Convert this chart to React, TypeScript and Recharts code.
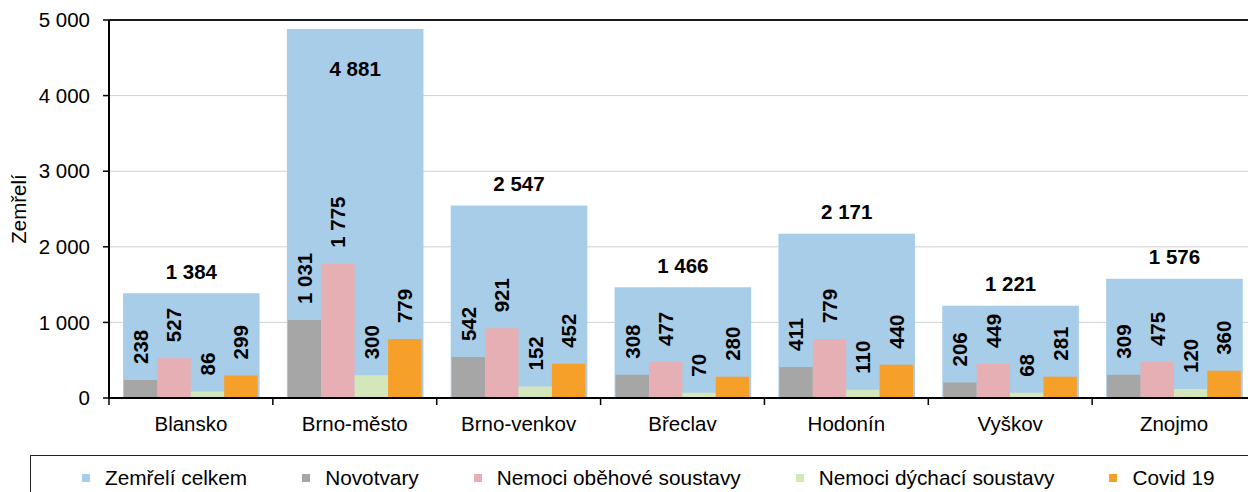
import React from "react";
import { BarChart, Bar, XAxis, YAxis, CartesianGrid, ReferenceLine } from "recharts";

const categories = ["Blansko", "Brno-město", "Brno-venkov", "Břeclav", "Hodonín", "Vyškov", "Znojmo"];
const totalDeaths = [1384, 4881, 2547, 1466, 2171, 1221, 1576];
const neoplasms = [238, 1031, 542, 308, 411, 206, 309];
const circulatory = [527, 1775, 921, 477, 779, 449, 475];
const respiratory = [86, 300, 152, 70, 110, 68, 120];
const covid = [299, 779, 452, 280, 440, 281, 360];
const yTicks = [0, 1000, 2000, 3000, 4000, 5000];

const SERIES = [
  { key: "total", name: "Zemřelí celkem", color: "#a7cde8" },
  { key: "neo", name: "Novotvary", color: "#a6a6a6" },
  { key: "circ", name: "Nemoci oběhové soustavy", color: "#e6afb3" },
  { key: "resp", name: "Nemoci dýchací soustavy", color: "#d4e7bb" },
  { key: "covid", name: "Covid 19", color: "#f6a02a" },
];

const data = categories.map((name, i) => ({
  name,
  total: totalDeaths[i],
  neo: neoplasms[i],
  circ: circulatory[i],
  resp: respiratory[i],
  covid: covid[i],
}));

const FONT = "'Liberation Sans', Arial, Helvetica, sans-serif";
const FS = 20.5;
const CHART_W = 1262;
const CHART_H = 492;
const MARGIN = { top: 20, right: 6, left: 0, bottom: 54 };
const Y_AXIS_W = 109;
const BAND = (CHART_W - MARGIN.right - MARGIN.left - Y_AXIS_W) / categories.length;
const PLOT_TOP = MARGIN.top;
const PLOT_BOTTOM = CHART_H - MARGIN.bottom - 40;

const fmt = (v: number) => String(v).replace(/\B(?=(\d{3})+(?!\d))/g, " ");

const box = (p: any) => {
  const vb = p.viewBox || {};
  return {
    x: Number(p.x ?? vb.x),
    y: Number(p.y ?? vb.y),
    width: Number(p.width ?? vb.width),
    value: Number(p.value),
  };
};

// total label sits above the bar, or inside when it would leave the plot
const TotalLabel = (p: any) => {
  const { x, y, width, value } = box(p);
  const above = y - 22;
  const cy = above < PLOT_TOP + 10 ? y + 40 : above;
  return (
    <text x={x + width / 2} y={cy} dy="0.36em" textAnchor="middle" fontSize={FS} fontWeight="bold" fill="#000">
      {fmt(value)}
    </text>
  );
};

const RotatedLabel = (p: any) => {
  const { x, y, width, value } = box(p);
  const cx = x + width / 2;
  const sy = y - 16;
  return (
    <text
      x={cx}
      y={sy}
      dy="0.36em"
      transform={`rotate(-90 ${cx} ${sy})`}
      textAnchor="start"
      fontSize={FS}
      fontWeight="bold"
      fill="#000"
    >
      {fmt(value)}
    </text>
  );
};

const CategoryTick = ({ x, y, payload }: any) => (
  <g>
    <line x1={x - BAND / 2} y1={y} x2={x - BAND / 2} y2={y + 7} stroke="#000" strokeWidth={1.5} />
    <text x={x} y={y + 32.7} textAnchor="middle" fontSize={FS} fill="#000">
      {payload.value}
    </text>
  </g>
);

const YTitle = () => (
  <text
    transform={`translate(26 ${(PLOT_TOP + PLOT_BOTTOM) / 2}) rotate(-90)`}
    textAnchor="middle"
    fontSize={FS}
    fill="#000"
  >
    Zemřelí
  </text>
);

export default function App() {
  return (
    <div
      style={{
        position: "fixed",
        left: 0,
        top: 0,
        width: 1248,
        height: 492,
        overflow: "hidden",
        background: "#fff",
        fontFamily: FONT,
      }}
    >
      <BarChart width={CHART_W} height={CHART_H} data={data} margin={MARGIN} barGap={0}>
        <CartesianGrid xAxisId="front" horizontal vertical={false} stroke="#d0d0d0" />
        <XAxis xAxisId="back" dataKey="name" hide height={0} />
        <XAxis
          xAxisId="front"
          dataKey="name"
          height={40}
          tickSize={0}
          tickMargin={0}
          tickLine={false}
          axisLine={{ stroke: "#000", strokeWidth: 2 }}
          tick={<CategoryTick />}
          interval={0}
        />
        <YAxis
          width={Y_AXIS_W}
          domain={[0, 5000]}
          ticks={yTicks}
          tickFormatter={fmt}
          tickSize={6}
          tickMargin={13}
          tick={{ fill: "#000", fontSize: FS }}
          tickLine={{ stroke: "#000", strokeWidth: 1.5 }}
          axisLine={{ stroke: "#000", strokeWidth: 2 }}
          label={<YTitle />}
        />
        <ReferenceLine xAxisId="front" y={5000} stroke="#1a1a1a" strokeWidth={2} />
        <Bar
          xAxisId="back"
          dataKey="total"
          name={SERIES[0].name}
          fill={SERIES[0].color}
          barSize={136.6}
          isAnimationActive={false}
          label={<TotalLabel />}
        />
        {SERIES.slice(1).map((s) => (
          <Bar
            key={s.key}
            xAxisId="front"
            dataKey={s.key}
            name={s.name}
            fill={s.color}
            barSize={33.4}
            isAnimationActive={false}
            label={<RotatedLabel />}
          />
        ))}
      </BarChart>
      <div
        style={{
          position: "absolute",
          left: 30,
          top: 455,
          width: 1400,
          height: 60,
          borderTop: "1.5px solid #222",
          borderLeft: "1.5px solid #222",
          display: "flex",
          alignItems: "center",
          paddingLeft: 51,
          boxSizing: "border-box",
          alignContent: "flex-start",
        }}
      >
        <div style={{ display: "flex", alignItems: "center", height: 44, marginTop: -16 }}>
          {SERIES.map((s, i) => (
            <div key={s.key} style={{ display: "flex", alignItems: "center", marginLeft: i === 0 ? 0 : 55 }}>
              <span style={{ width: 8, height: 8, background: s.color, marginRight: 15, display: "inline-block" }} />
              <span style={{ fontSize: 20.8, color: "#000", lineHeight: "24px", whiteSpace: "nowrap" }}>{s.name}</span>
            </div>
          ))}
        </div>
      </div>
    </div>
  );
}
